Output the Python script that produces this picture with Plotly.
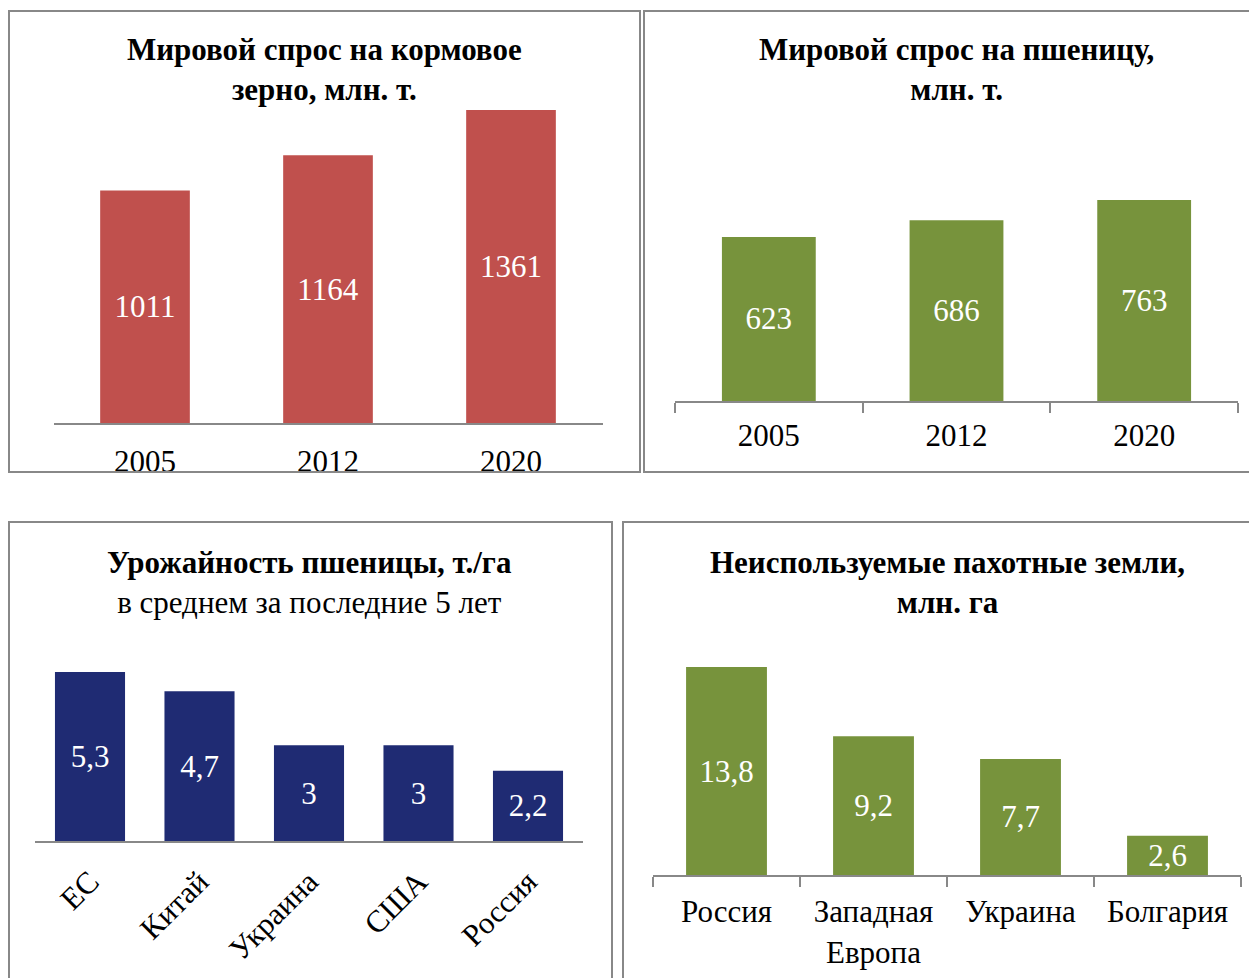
import plotly.graph_objects as go

# page has an 8px body margin, so the figure is offset by that much
OFF = 8
W, H = 1257 - OFF, 978 - OFF
FONT = "Liberation Serif, Times New Roman, serif"

# panel 1: feed grain demand
feed_years = ["2005", "2012", "2020"]
feed_values = [1011, 1164, 1361]

# panel 2: wheat demand
wheat_years = ["2005", "2012", "2020"]
wheat_values = [623, 686, 763]

# panel 3: wheat yield
yield_countries = ["ЕС", "Китай", "Украина", "США", "Россия"]
yield_values = [5.3, 4.7, 3.0, 3.0, 2.2]
yield_labels = ["5,3", "4,7", "3", "3", "2,2"]

# panel 4: unused arable land
land_countries = ["Россия", "Западная<br>Европа", "Украина", "Болгария"]
land_values = [13.8, 9.2, 7.7, 2.6]
land_labels = ["13,8", "9,2", "7,7", "2,6"]

RED = "#C0504D"
GREEN = "#77933C"
NAVY = "#1F2B73"
GRAY = "#888888"


def px_x(p):
    return (p - OFF) / W


def px_y(p):
    return 1 - (p - OFF) / H


def bar(x, y, text, color, n, width):
    return go.Bar(
        x=x, y=y, text=text, width=width,
        marker_color=color, marker_line_width=0,
        textposition="inside", insidetextanchor="middle", textangle=0,
        constraintext="none",
        textfont=dict(family=FONT, size=31, color="white"),
        xaxis="x" + n, yaxis="y" + n, showlegend=False, hoverinfo="x+y",
    )


fig = go.Figure()
fig.add_trace(bar(feed_years, feed_values, [str(v) for v in feed_values], RED, "", 0.49))
fig.add_trace(bar(wheat_years, wheat_values, [str(v) for v in wheat_values], GREEN, "2", 0.5))
fig.add_trace(bar(yield_countries, yield_values, yield_labels, NAVY, "3", 0.64))
fig.add_trace(bar(land_countries, land_values, land_labels, GREEN, "4", 0.55))

tickfont = dict(family=FONT, size=31, color="black")


def xax(x0, x1, ticks=False, angle=0, standoff=14):
    d = dict(
        domain=[px_x(x0), px_x(x1)], showline=True, linecolor=GRAY, linewidth=2,
        tickfont=tickfont, tickangle=angle, showgrid=False, zeroline=False,
        ticklabelstandoff=standoff, fixedrange=True,
    )
    if ticks:
        d.update(ticks="outside", tickson="boundaries", ticklen=10,
                 tickcolor=GRAY, tickwidth=2)
    else:
        d.update(ticks="")
    return d


def yax(yb, yt, ymax):
    return dict(domain=[px_y(yb), px_y(yt)], range=[0, ymax], visible=False,
                fixedrange=True)


fig.update_layout(
    width=W, height=H, margin=dict(l=0, r=0, t=0, b=0),
    paper_bgcolor="white", plot_bgcolor="white",
    font=dict(family=FONT, color="black"),
    xaxis=xax(53.5, 602.5, standoff=10),
    yaxis=yax(423, 100, 323 / (313 / 1361)),
    xaxis2=dict(xax(675, 1238, ticks=True, standoff=6), anchor="y2"),
    yaxis2=dict(yax(401, 150, 251 / (201 / 763)), anchor="x2"),
    xaxis3=dict(xax(35.25, 582.75, angle=-45, standoff=8), anchor="y3"),
    yaxis3=dict(yax(841, 640, 201 / (169 / 5.3)), anchor="x3"),
    xaxis4=dict(xax(653, 1241, ticks=True, standoff=8), anchor="y4"),
    yaxis4=dict(yax(875, 640, 235 / (208 / 13.8)), anchor="x4"),
)

# panel borders
for x0, y0, x1, y1 in [(9, 11, 640, 472), (644, 11, 1262, 472),
                       (9, 522, 612, 985), (623, 522, 1262, 985)]:
    fig.add_shape(type="rect", xref="paper", yref="paper",
                  x0=px_x(x0), x1=px_x(x1), y0=px_y(y1), y1=px_y(y0),
                  line=dict(color=GRAY, width=2), fillcolor="rgba(0,0,0,0)")

titles = [
    (325, 70, "<b>Мировой спрос на кормовое<br>зерно, млн. т.</b>"),
    (956, 70, "<b>Мировой спрос на пшеницу,<br>млн. т.</b>"),
    (309, 582, "<b>Урожайность пшеницы, т./га</b><br>в среднем за последние 5 лет"),
    (947, 582, "<b>Неиспользуемые пахотные земли,<br>млн. га</b>"),
]
for x, y, t in titles:
    fig.add_annotation(x=px_x(x), y=px_y(y), xref="paper", yref="paper",
                       text=t, showarrow=False, xanchor="center", yanchor="middle",
                       align="center", font=dict(family=FONT, size=31, color="black"))

fig.write_html("out.html")
